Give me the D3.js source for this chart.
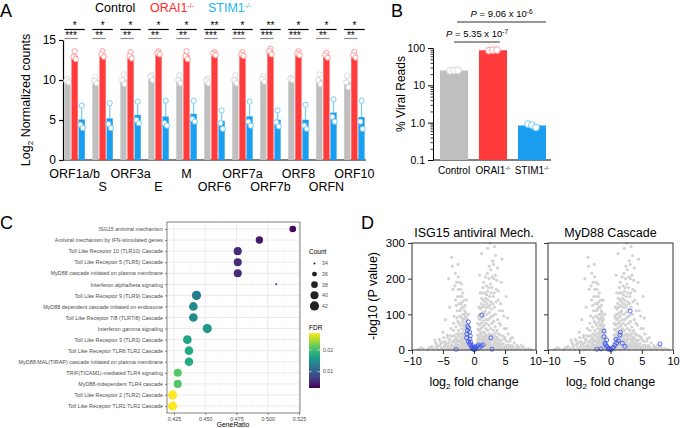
<!DOCTYPE html>
<html>
<head>
<meta charset="utf-8">
<script src="https://cdn.jsdelivr.net/npm/d3@7"></script>
<style>
  body { margin: 0; background: #fff; }
  svg { font-family: "Liberation Sans", Arial, sans-serif; display: block; }
</style>
</head>
<body>
<svg id="fig" width="680" height="428"></svg>
<script>
// ---- panel A: log2 normalized counts per viral gene ----
var genes = ['ORF1a/b', 'S', 'ORF3a', 'E', 'M', 'ORF6', 'ORF7a', 'ORF7b', 'ORF8', 'ORFN', 'ORF10'];
var ctrlReps = [[10.2, 9.9, 9.7], [10.4, 9.9, 9.6], [10.7, 10.0, 9.5], [10.6, 10.4, 10.0], [10.6, 10.0, 9.6],
  [10.2, 9.9, 9.6], [10.6, 10.0, 9.6], [10.5, 10.1, 9.8], [10.3, 10.1, 10.0], [10.7, 10.0, 9.5], [10.5, 9.7, 9.1]];
var oraiReps = [[13.6, 12.9, 12.6], [13.6, 13.2, 12.9], [13.5, 13.0, 12.7], [13.6, 13.4, 13.2], [13.6, 13.0, 12.6],
  [13.5, 13.3, 13.1], [13.5, 13.2, 13.0], [13.9, 13.6, 13.2], [13.6, 13.3, 13.1], [13.4, 13.1, 12.8], [13.5, 13.1, 12.8]];
var stimReps = [[6.8, 4.4, 4.0], [7.1, 4.5, 4.0], [7.3, 5.0, 4.6], [7.4, 4.6, 4.3], [7.4, 5.1, 4.8],
  [6.2, 4.6, 3.9], [7.3, 4.8, 4.3], [6.2, 4.7, 4.2], [6.9, 4.3, 3.9], [7.6, 5.4, 4.8], [7.4, 4.8, 3.9]];
var starsCtrlStim = ['*', '*', '*', '*', '*', '**', '*', '**', '*', '*', '*'];
var starsCtrlOrai = ['***', '**', '**', '**', '**', '***', '***', '***', '***', '**', '**'];

// ---- panel B: % viral reads ----
var groupsB = ['Control', 'ORAI1', 'STIM1'];
var viralReps = [[24.5, 25, 25.5], [85, 88, 88], [0.92, 0.86, 0.74]];
var pLabels = ['5.35 x 10', '9.06 x 10'];
var pExps = ['-7', '-6'];

// ---- panel C: enrichment dot plot ----
var pathways = [
  'ISG15 antiviral mechanism',
  'Antiviral mechanism by IFN-stimulated genes',
  'Toll Like Receptor 10 (TLR10) Cascade',
  'Toll Like Receptor 5 (TLR5) Cascade',
  'MyD88 cascade initiated on plasma membrane',
  'Interferon alpha/beta signaling',
  'Toll Like Receptor 9 (TLR9) Cascade',
  'MyD88 dependent cascade initiated on endosome',
  'Toll Like Receptor 7/8 (TLR7/8) Cascade',
  'Interferon gamma signaling',
  'Toll Like Receptor 3 (TLR3) Cascade',
  'Toll Like Receptor TLR6:TLR2 Cascade',
  'MyD88:MAL(TIRAP) cascade initiated on plasma membrane',
  'TRIF(TICAM1)-mediated TLR4 signaling',
  'MyD88-independent TLR4 cascade',
  'Toll Like Receptor 2 (TLR2) Cascade',
  'Toll Like Receptor TLR1:TLR2 Cascade'
];
var geneRatio = [0.520, 0.4933, 0.476, 0.476, 0.476, 0.5068, 0.443, 0.4405, 0.4405, 0.4516,
  0.4357, 0.437, 0.437, 0.428, 0.428, 0.4239, 0.4239];
var fdr = [0.0028, 0.004, 0.0055, 0.0055, 0.0055, 0.006, 0.013, 0.0145, 0.0145, 0.016,
  0.0175, 0.018, 0.018, 0.021, 0.021, 0.0278, 0.0278];
var counts = [38, 39, 40, 40, 40, 34, 42, 41, 41, 42, 41, 41, 41, 40, 40, 42, 42];
var countBreaks = [34, 36, 38, 40, 42];
var ratioTicks = [0.425, 0.450, 0.475, 0.500, 0.525];

// ---- panel D: volcano plots (log2 fold change, -log10 P) ----
var allGenes = [
  [-9, 2], [-8.2, 4], [-7.5, 1], [-7, 6], [-6.5, 3], [-6, 8], [-5.8, 2], [-5.5, 12], [-5.2, 5], [-5, 1],
  [-4.8, 9], [-4.6, 15], [-4.4, 4], [-4.2, 11], [-4, 2], [-3.8, 7], [-3.6, 14], [-3.4, 3], [-3.2, 10], [-3, 18],
  [-2.9, 5], [-2.7, 13], [-2.5, 1], [-2.4, 8], [-2.2, 16], [-2, 4], [-1.9, 11], [-1.7, 2], [-1.5, 7], [-1.3, 14],
  [-1.2, 3], [-1, 9], [-0.8, 1], [-0.6, 5], [-0.4, 2], [-0.2, 1], [0, 0.5], [0.2, 1], [0.4, 3], [0.6, 6],
  [0.8, 2], [1, 10], [1.2, 4], [1.4, 15], [1.6, 1], [1.8, 8], [2, 12], [2.2, 3], [2.4, 18], [2.6, 6],
  [2.8, 10], [3, 2], [3.2, 14], [3.4, 7], [3.6, 20], [3.8, 4], [4, 11], [4.2, 2], [4.4, 16], [4.6, 6],
  [4.8, 9], [5, 3], [5.2, 13], [5.4, 1], [5.6, 7], [5.8, 10], [6, 4], [6.3, 8], [6.6, 2], [7, 5],
  [7.4, 3], [7.8, 6], [8.3, 2], [8.8, 4], [9.3, 1],
  [-6.8, 10], [-6.2, 20], [-5.6, 30], [-5.3, 18], [-4.9, 35], [-4.7, 24], [-4.3, 42], [-4.1, 20], [-3.9, 30], [-3.7, 12],
  [-3.5, 38], [-3.3, 26], [-3.1, 8], [-2.9, 34], [-2.8, 22], [-2.6, 12], [-2.5, 40], [-2.3, 28], [-2.2, 6], [-2.1, 20],
  [-2, 45], [-1.9, 16], [-1.8, 30], [-1.7, 10], [-1.6, 20], [-1.5, 36], [-1.4, 12], [-1.3, 4], [-1.2, 22], [-1.1, 15],
  [-1.0, 6], [-0.9, 12], [-0.8, 10], [-0.7, 4], [-0.6, 14], [-0.5, 8], [-0.4, 11], [-0.3, 4], [-0.1, 6], [0.1, 4],
  [0.3, 8], [0.5, 12], [0.6, 2], [0.7, 16], [0.9, 5], [1.0, 20], [1.1, 12], [1.2, 28], [1.3, 8], [1.5, 22],
  [1.6, 36], [1.7, 14], [1.8, 26], [1.9, 4], [2.0, 38], [2.1, 18], [2.2, 30], [2.3, 10], [2.4, 42], [2.5, 22],
  [2.6, 34], [2.7, 14], [2.8, 28], [2.9, 6], [3.0, 44], [3.1, 18], [3.2, 32], [3.3, 10], [3.4, 24], [3.5, 48],
  [3.6, 12], [3.7, 36], [3.8, 20], [3.9, 8], [4.0, 30], [4.1, 16], [4.2, 42], [4.3, 10], [4.5, 28], [4.7, 18],
  [4.9, 36], [5.1, 8], [5.3, 24], [5.6, 14], [5.9, 32], [6.1, 12], [6.5, 20], [6.9, 12], [7.2, 8], [7.6, 14],
  [8, 9], [-7.3, 5], [-8.6, 6], [-6.3, 28], [-5, 22],
  [-0.7, 20], [-0.8, 28], [-0.9, 35], [-1.0, 22], [-1.0, 45], [-1.1, 30], [-1.1, 55], [-1.2, 40], [-1.2, 65], [-1.3, 25],
  [-1.3, 50], [-1.3, 80], [-1.4, 35], [-1.4, 60], [-1.4, 95], [-1.5, 45], [-1.5, 72], [-1.5, 110], [-1.6, 30], [-1.6, 58],
  [-1.6, 88], [-1.7, 40], [-1.7, 68], [-1.7, 120], [-1.8, 50], [-1.8, 100], [-1.9, 25], [-1.9, 78], [-1.9, 135], [-2.0, 60],
  [-2.0, 90], [-2.1, 35], [-2.1, 115], [-2.2, 70], [-2.2, 150], [-2.3, 45], [-2.3, 95], [-2.4, 130], [-2.5, 55], [-2.5, 170],
  [-2.6, 80], [-2.7, 30], [-2.7, 110], [-2.8, 190], [-2.9, 65], [-3.0, 140], [-3.0, 215], [-3.2, 40], [-3.2, 95], [-3.4, 170],
  [-3.5, 235], [-3.7, 60], [-3.9, 120], [-4.1, 200], [-4.3, 35], [-4.6, 85], [-5, 50], [-2.6, 240], [-3.6, 260], [-1.8, 160],
  [-2.0, 185], [-2.5, 25], [-3, 30], [-3.5, 22], [-4, 28], [-2.8, 45], [-3.3, 55], [-4.5, 18], [-5.5, 25], [-6, 15], [-3.8, 40],
  [-0.75, 38], [-0.85, 48], [-0.95, 58], [-1.05, 70], [-1.15, 85], [-1.25, 92], [-1.35, 105], [-1.45, 125], [-1.55, 140],
  [-1.65, 100], [-1.75, 85], [-1.85, 120], [-1.95, 150], [-2.05, 130], [-2.15, 170], [-2.25, 110], [-2.35, 190], [-2.45, 75],
  [-2.55, 205], [-2.65, 150], [-2.75, 90], [-2.85, 125], [-3.1, 180], [-3.3, 75], [-1.2, 140], [-0.9, 100],
  [0.5, 20], [0.6, 30], [0.7, 40], [0.8, 25], [0.8, 55], [0.9, 35], [0.9, 70], [1.0, 45], [1.0, 85], [1.1, 30],
  [1.1, 60], [1.1, 100], [1.2, 50], [1.2, 75], [1.3, 40], [1.3, 90], [1.3, 120], [1.4, 25], [1.4, 65], [1.4, 105],
  [1.5, 35], [1.5, 80], [1.5, 140], [1.6, 50], [1.6, 95], [1.6, 125], [1.7, 30], [1.7, 70], [1.7, 160], [1.8, 45],
  [1.8, 110], [1.9, 60], [1.9, 85], [1.9, 145], [2.0, 25], [2.0, 75], [2.0, 180], [2.1, 40], [2.1, 100], [2.1, 130],
  [2.2, 55], [2.2, 165], [2.3, 30], [2.3, 85], [2.3, 120], [2.4, 70], [2.4, 200], [2.5, 45], [2.5, 105], [2.5, 150],
  [2.6, 25], [2.6, 90], [2.7, 60], [2.7, 135], [2.7, 225], [2.8, 40], [2.8, 115], [2.9, 75], [2.9, 175], [3.0, 30],
  [3.0, 95], [3.0, 250], [3.1, 55], [3.1, 150], [3.2, 80], [3.2, 200], [3.3, 40], [3.3, 120], [3.4, 65], [3.5, 100],
  [3.5, 265], [3.6, 30], [3.6, 170], [3.7, 55], [3.8, 85], [3.8, 230], [3.9, 140], [4.0, 45], [4.1, 110], [4.2, 25],
  [4.3, 70], [4.4, 190], [4.6, 40], [4.8, 95], [5.0, 30], [5.2, 60], [5.5, 45], [5.8, 25], [6.2, 35], [1.2, 270],
  [2.2, 285], [3.3, 290], [4.5, 255], [5.2, 150], [0.9, 210], [2.6, 300],
  [0.55, 42], [0.65, 58], [0.75, 72], [0.85, 88], [0.95, 100], [1.05, 115], [1.15, 130], [1.25, 145], [1.35, 160],
  [1.45, 175], [1.55, 190], [1.65, 105], [1.75, 135], [1.85, 205], [1.95, 120], [2.05, 155], [2.15, 215], [2.25, 140],
  [2.35, 175], [2.45, 235], [2.55, 125], [2.65, 185], [2.75, 160], [2.85, 95], [2.95, 205], [3.05, 130], [3.15, 240],
  [3.25, 160], [3.35, 100], [3.45, 210], [3.6, 135], [3.7, 195], [3.9, 165], [4.1, 75], [4.3, 130], [4.6, 110],
  [4.9, 60], [5.4, 90], [1.0, 160], [0.8, 120], [0.7, 95], [0.6, 75]
];
var isg15Genes = [[-0.9, 79], [-1.0, 66], [-0.85, 62], [-0.7, 50], [-1.15, 45], [-1.2, 34], [-0.65, 30], [-0.9, 24],
  [-0.75, 18], [-0.5, 14], [-0.4, 9], [-0.3, 6], [-0.15, 3], [0, 1], [0.15, 2], [0.3, 5], [0.5, 10], [0.7, 14],
  [0.9, 8], [1.2, 12], [1.5, 15], [1.25, 98], [2.7, 34], [-2.9, 2], [2.9, 2], [-0.6, 40], [-1.05, 55], [-0.55, 22],
  [0.1, 8], [-0.2, 12]];
var myd88Genes = [[-1.05, 53], [-1.05, 37], [-0.6, 28], [-0.9, 19], [-0.6, 11], [-0.1, 3], [0.3, 5], [0.7, 14],
  [1.25, 26], [1.5, 42], [1.6, 50], [1.9, 19], [3.15, 109], [7.9, 17], [-2.2, 2], [-0.4, 6], [0.1, 1], [-0.8, 15],
  [0.5, 8], [1.0, 20], [-1.5, 3], [2.3, 10], [0.9, 30], [-0.3, 2]];

var colors = { ctrl: '#bfbfbf', orai: '#ff3b3b', stim: '#1a9ff0' };
var lightColors = { ctrl: '#d9d9d9', orai: '#ff9c9c', stim: '#74cdf6' };

var svg = d3.select('#fig');

function panelLetter(letter, x, y) {
  svg.append('text').attr('x', x).attr('y', y)
    .style('font-size', '18px').text(letter);
}

function mean(a) { return d3.mean(a); }

function supLabel(sel, base, sup) {
  sel.append('tspan').text(base);
  sel.append('tspan').attr('dy', -4).style('font-size', '0.55em').text(sup);
}

// ================= Panel A =================
panelLetter('A', 0, 17);

var xA = d3.scaleBand().domain(genes).range([63, 366]).paddingInner(0.27).paddingOuter(0.05);
var xSub = d3.scaleBand().domain(['ctrl', 'orai', 'stim']).range([0, xA.bandwidth()]).paddingInner(0.12);
var yA = d3.scaleLinear().domain([0, 15]).range([160, 40]);

var gA = svg.append('g');

gA.append('g')
  .attr('transform', 'translate(63,0)')
  .call(d3.axisLeft(yA).tickValues([0, 5, 10, 15]).tickSize(4).tickSizeOuter(0))
  .call(function(g) {
    g.selectAll('text').style('font-size', '12px').style('font-family', 'Liberation Sans').attr('fill', '#000');
    g.selectAll('line,path').attr('stroke', '#000').attr('stroke-width', 1.2);
  });

gA.append('line')
  .attr('x1', 63).attr('x2', 366).attr('y1', yA(0)).attr('y2', yA(0))
  .attr('stroke', '#000').attr('stroke-width', 1.2);

var repSets = { ctrl: ctrlReps, orai: oraiReps, stim: stimReps };
var jit = [0, -1.2, 1.2];

genes.forEach(function(g, i) {
  ['ctrl', 'orai', 'stim'].forEach(function(c) {
    var reps = repSets[c][i];
    var m = mean(reps), sd = d3.deviation(reps);
    var bx = xA(g) + xSub(c), bw = xSub.bandwidth();
    gA.append('line')
      .attr('x1', bx + bw / 2).attr('x2', bx + bw / 2)
      .attr('y1', yA(m)).attr('y2', yA(m + sd))
      .attr('stroke', lightColors[c]).attr('stroke-width', 1.2);
    gA.append('rect')
      .attr('x', bx).attr('y', yA(m))
      .attr('width', bw).attr('height', yA(0) - yA(m))
      .attr('fill', colors[c]);
    reps.forEach(function(v, k) {
      gA.append('circle')
        .attr('cx', bx + bw / 2 + jit[k]).attr('cy', yA(v)).attr('r', 2.6)
        .attr('fill', '#fff').attr('stroke', lightColors[c]).attr('stroke-width', 1);
    });
  });

  // significance brackets
  var gx = xA(g);
  gA.append('line')
    .attr('x1', gx).attr('x2', gx + xA.bandwidth())
    .attr('y1', 29.5).attr('y2', 29.5)
    .attr('stroke', '#000').attr('stroke-width', 1.2);
  gA.append('text')
    .attr('x', gx + xA.bandwidth() / 2).attr('y', 28.5)
    .attr('text-anchor', 'middle').style('font-size', '10px')
    .text(starsCtrlStim[i]);
  var redEnd = gx + xSub('orai') + xSub.bandwidth();
  gA.append('line')
    .attr('x1', gx).attr('x2', redEnd)
    .attr('y1', 38.5).attr('y2', 38.5)
    .attr('stroke', '#8c8c8c').attr('stroke-width', 1.2);
  gA.append('text')
    .attr('x', (gx + redEnd) / 2).attr('y', 39)
    .attr('text-anchor', 'middle').style('font-size', '10px')
    .text(starsCtrlOrai[i]);

  // alternating gene labels
  gA.append('text')
    .attr('x', gx + xA.bandwidth() / 2).attr('y', i % 2 === 0 ? 178 : 191)
    .attr('text-anchor', 'middle').style('font-size', '12.5px')
    .text(g);
});

// y label
var yLabA = gA.append('text')
  .attr('transform', 'translate(30,100) rotate(-90)')
  .attr('text-anchor', 'middle').style('font-size', '12.5px');
yLabA.append('tspan').text('Log');
yLabA.append('tspan').attr('dy', 3).style('font-size', '8px').text('2');
yLabA.append('tspan').attr('dy', -3).text(' Normalized counts');

// legend
gA.append('text').attr('x', 95).attr('y', 12).style('font-size', '12.5px').text('Control');
supLabel(gA.append('text').attr('x', 150).attr('y', 12).style('font-size', '12.5px').attr('fill', '#ff2a2a'), 'ORAI1', '-/-');
supLabel(gA.append('text').attr('x', 208).attr('y', 12).style('font-size', '12.5px').attr('fill', '#22b5f2'), 'STIM1', '-/-');

// ================= Panel B =================
panelLetter('B', 391, 17);
var gB = svg.append('g');
var xB = d3.scaleBand().domain(groupsB).range([433, 553]).paddingInner(0.28).paddingOuter(0.18);
var yB = d3.scaleLog().domain([0.1, 100]).range([160, 48]);
var keysB = ['ctrl', 'orai', 'stim'];

var minorB = [];
[0.1, 1, 10].forEach(function(d) { for (var k = 2; k <= 9; k++) minorB.push(d * k); });
gB.append('g')
  .attr('transform', 'translate(433,0)')
  .call(d3.axisLeft(yB).tickValues(minorB).tickSize(2.5).tickFormat(''))
  .call(function(g) {
    g.select('.domain').remove();
    g.selectAll('line').attr('stroke', '#000').attr('stroke-width', 0.8);
  });
gB.append('g')
  .attr('transform', 'translate(433,0)')
  .call(d3.axisLeft(yB).tickValues([0.1, 1, 10, 100]).tickSize(5).tickSizeOuter(0)
    .tickFormat(function(d) { return d === 1 ? '1.0' : String(d); }))
  .call(function(g) {
    g.selectAll('text').style('font-size', '10.5px').style('font-family', 'Liberation Sans').attr('fill', '#000');
    g.selectAll('line,path').attr('stroke', '#000').attr('stroke-width', 1);
  });
gB.append('line').attr('x1', 433).attr('x2', 551).attr('y1', 160).attr('y2', 160)
  .attr('stroke', '#000').attr('stroke-width', 1.2);

groupsB.forEach(function(g, i) {
  var reps = viralReps[i];
  var m = mean(reps);
  gB.append('rect')
    .attr('x', xB(g)).attr('y', yB(m))
    .attr('width', xB.bandwidth()).attr('height', yB(0.1) - yB(m))
    .attr('fill', colors[keysB[i]]);
  reps.forEach(function(v, k) {
    gB.append('circle')
      .attr('cx', xB(g) + xB.bandwidth() / 2 + (k - 1) * 4).attr('cy', yB(v)).attr('r', 3.4)
      .attr('fill', '#fff').attr('stroke', lightColors[keysB[i]]).attr('stroke-width', 1);
  });
  var t = gB.append('text')
    .attr('x', xB(g) + xB.bandwidth() / 2).attr('y', 174)
    .attr('text-anchor', 'middle').style('font-size', '10px');
  if (i === 0) t.text(g); else supLabel(t, g, '-/-');
});

gB.append('text').attr('transform', 'translate(405,94) rotate(-90)')
  .attr('text-anchor', 'middle').style('font-size', '12px').text('% Viral Reads');

// P value brackets
var bracketsB = [
  { x1: xB('Control') + xB.bandwidth() / 2, x2: xB('ORAI1') + xB.bandwidth() * 0.75, y: 42 },
  { x1: xB('Control') + xB.bandwidth() / 2 + 3, x2: xB('STIM1') + xB.bandwidth(), y: 22 }
];
bracketsB.forEach(function(b, i) {
  gB.append('line').attr('x1', b.x1).attr('x2', b.x2).attr('y1', b.y).attr('y2', b.y)
    .attr('stroke', '#333').attr('stroke-width', 1.1);
  var t = gB.append('text').attr('x', (b.x1 + b.x2) / 2).attr('y', b.y - 5)
    .attr('text-anchor', 'middle').style('font-size', '9.5px');
  t.append('tspan').style('font-style', 'italic').text('P');
  t.append('tspan').text(' = ' + pLabels[i]);
  t.append('tspan').attr('dy', -3.5).style('font-size', '6.5px').text(pExps[i]);
});

// ================= Panel C =================
panelLetter('C', 0, 229);
var gC = svg.append('g');
var xC = d3.scaleLinear().domain([0.4194, 0.5258]).range([167, 300]);
var yC = d3.scalePoint().domain(pathways).range([229, 406]);
var sizeC = d3.scaleRadial().domain([34, 42]).range([1, 4.6]);
var colorC = d3.scaleSequential(d3.interpolateViridis).domain([0.0025, 0.0278]);

gC.append('rect').attr('x', 167).attr('y', 222).attr('width', 133).attr('height', 191)
  .attr('fill', '#fff');
// grid
var minorRatio = [0.4375, 0.4625, 0.4875, 0.5125];
gC.selectAll('.minor').data(minorRatio).enter().append('line')
  .attr('x1', xC).attr('x2', xC).attr('y1', 222).attr('y2', 413)
  .attr('stroke', '#f2f2f2').attr('stroke-width', 0.5);
gC.selectAll('.vgrid').data(ratioTicks).enter().append('line')
  .attr('x1', xC).attr('x2', xC).attr('y1', 222).attr('y2', 413)
  .attr('stroke', '#e6e6e6').attr('stroke-width', 0.8);
gC.selectAll('.hgrid').data(pathways).enter().append('line')
  .attr('x1', 167).attr('x2', 300).attr('y1', yC).attr('y2', yC)
  .attr('stroke', '#e6e6e6').attr('stroke-width', 0.8);

gC.append('g').attr('transform', 'translate(167,0)')
  .call(d3.axisLeft(yC).tickSize(2).tickPadding(2))
  .call(function(g) {
    g.select('.domain').remove();
    g.selectAll('line').attr('stroke', '#333').attr('stroke-width', 0.6);
    g.selectAll('text').style('font-size', '5.4px').style('font-family', 'Liberation Sans').attr('fill', '#4d4d4d');
  });
gC.append('g').attr('transform', 'translate(0,413)')
  .call(d3.axisBottom(xC).tickValues(ratioTicks).tickSize(2).tickPadding(2).tickFormat(d3.format('.3f')))
  .call(function(g) {
    g.select('.domain').remove();
    g.selectAll('line').attr('stroke', '#333').attr('stroke-width', 0.6);
    g.selectAll('text').style('font-size', '5.4px').style('font-family', 'Liberation Sans').attr('fill', '#4d4d4d');
  });
gC.append('text').attr('x', 233).attr('y', 427).attr('text-anchor', 'middle')
  .style('font-size', '6.8px').text('GeneRatio');

gC.selectAll('.dot').data(pathways).enter().append('circle')
  .attr('cx', function(d, i) { return xC(geneRatio[i]); })
  .attr('cy', function(d) { return yC(d); })
  .attr('r', function(d, i) { return sizeC(counts[i]); })
  .attr('fill', function(d, i) { return colorC(fdr[i]); });

gC.append('rect').attr('x', 167).attr('y', 222).attr('width', 133).attr('height', 191)
  .attr('fill', 'none').attr('stroke', '#4d4d4d').attr('stroke-width', 0.7);

// size legend
gC.append('text').attr('x', 309).attr('y', 254).style('font-size', '6.5px').text('Count');
countBreaks.forEach(function(c, i) {
  var cy = 263.5 + i * 10.6;
  gC.append('circle').attr('cx', 314.5).attr('cy', cy).attr('r', sizeC(c)).attr('fill', '#222');
  gC.append('text').attr('x', 322).attr('y', cy + 1.8).style('font-size', '5.2px')
    .attr('fill', '#4d4d4d').text(c);
});

// colour bar
gC.append('text').attr('x', 309).attr('y', 330).style('font-size', '6.5px').text('FDR');
var grad = svg.append('defs').append('linearGradient').attr('id', 'fdrGrad')
  .attr('x1', 0).attr('x2', 0).attr('y1', 1).attr('y2', 0);
d3.range(0, 1.01, 0.1).forEach(function(t) {
  grad.append('stop').attr('offset', t).attr('stop-color', d3.interpolateViridis(t));
});
var yBar = d3.scaleLinear().domain([0.0025, 0.0278]).range([388, 333]);
gC.append('rect').attr('x', 309).attr('y', 333).attr('width', 11).attr('height', 55)
  .attr('fill', 'url(#fdrGrad)');
[0.01, 0.02].forEach(function(v) {
  gC.append('line').attr('x1', 309).attr('x2', 311.5).attr('y1', yBar(v)).attr('y2', yBar(v))
    .attr('stroke', '#fff').attr('stroke-width', 0.6);
  gC.append('line').attr('x1', 317.5).attr('x2', 320).attr('y1', yBar(v)).attr('y2', yBar(v))
    .attr('stroke', '#fff').attr('stroke-width', 0.6);
  gC.append('text').attr('x', 323).attr('y', yBar(v) + 1.8).style('font-size', '5.2px')
    .attr('fill', '#4d4d4d').text(v.toFixed(2));
});

// ================= Panel D =================
panelLetter('D', 361, 229);

function volcano(x0, x1, title, highlight, showY) {
  var g = svg.append('g');
  var x = d3.scaleLinear().domain([-10, 10]).range([x0, x1]);
  var y = d3.scaleLinear().domain([0, 300]).range([350, 243]);

  g.selectAll('.bg').data(allGenes).enter().append('circle')
    .attr('cx', function(d) { return x(d[0]); })
    .attr('cy', function(d) { return y(d[1]); })
    .attr('r', 1.6).attr('fill', '#d3d3d3');
  g.selectAll('.hl').data(highlight).enter().append('circle')
    .attr('cx', function(d) { return x(d[0]); })
    .attr('cy', function(d) { return y(d[1]); })
    .attr('r', 2).attr('fill', 'none').attr('stroke', '#3650f0').attr('stroke-width', 0.8);

  g.append('rect').attr('x', x0).attr('y', 243).attr('width', x1 - x0).attr('height', 107)
    .attr('fill', 'none').attr('stroke', '#333').attr('stroke-width', 1);

  g.append('g').attr('transform', 'translate(0,350)')
    .call(d3.axisBottom(x).tickValues([-10, -5, 0, 5, 10]).tickSize(4).tickSizeOuter(0))
    .call(function(a) {
      a.select('.domain').remove();
      a.selectAll('line').attr('stroke', '#333');
      a.selectAll('text').style('font-size', '11px').style('font-family', 'Liberation Sans').attr('fill', '#000');
      // the end labels of the two panels sit edge to edge, as in the figure
      a.selectAll('.tick').filter(function(d) { return showY ? d === 10 : d === -10; })
        .select('text')
        .attr('text-anchor', showY ? 'end' : 'start')
        .attr('dx', showY ? 5.5 : -6.5);
    });
  g.append('g').attr('transform', 'translate(' + x0 + ',0)')
    .call(d3.axisLeft(y).tickValues([0, 100, 200, 300]).tickSize(4).tickSizeOuter(0)
      .tickFormat(showY ? d3.format('d') : ''))
    .call(function(a) {
      a.select('.domain').remove();
      a.selectAll('line').attr('stroke', '#333');
      a.selectAll('text').style('font-size', '11.5px').style('font-family', 'Liberation Sans').attr('fill', '#000');
    });

  g.append('text').attr('x', (x0 + x1) / 2).attr('y', 237).attr('text-anchor', 'middle')
    .style('font-size', '12.5px').text(title);
  var xt = g.append('text').attr('x', (x0 + x1) / 2).attr('y', 386).attr('text-anchor', 'middle')
    .style('font-size', '12.5px');
  xt.append('tspan').text('log');
  xt.append('tspan').attr('dy', 3).style('font-size', '8px').text('2');
  xt.append('tspan').attr('dy', -3).text(' fold change');
}

volcano(412, 536, 'ISG15 antiviral Mech.', isg15Genes, true);
volcano(548, 673, 'MyD88 Cascade', myd88Genes, false);

svg.append('text').attr('transform', 'translate(377,296) rotate(-90)')
  .attr('text-anchor', 'middle').style('font-size', '12.5px').text('-log10 (P value)');
</script>
</body>
</html>
